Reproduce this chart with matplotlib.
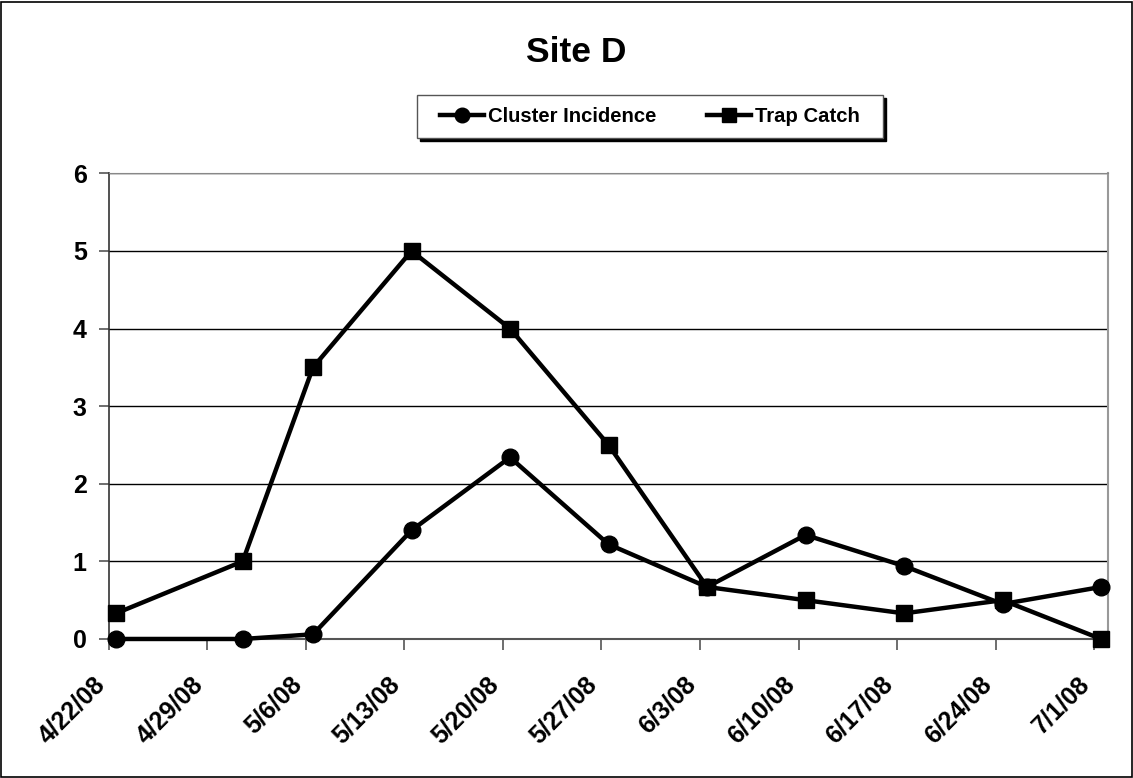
import pandas as pd
import matplotlib
matplotlib.use("Agg")
import matplotlib.pyplot as plt
import matplotlib.transforms as mtransforms
from matplotlib.patches import Rectangle

# sample dates and weekly tick dates
dates = ["2008-04-22", "2008-05-01", "2008-05-06", "2008-05-13", "2008-05-20",
         "2008-05-27", "2008-06-03", "2008-06-10", "2008-06-17", "2008-06-24",
         "2008-07-01"]
cluster_incidence = [0, 0, 0.06, 1.40, 2.34, 1.22, 0.67, 1.34, 0.94, 0.45, 0.67]
trap_catch = [0.33, 1.0, 3.5, 5.0, 4.0, 2.5, 0.67, 0.5, 0.33, 0.5, 0.0]
tick_dates = ["2008-04-22", "2008-04-29", "2008-05-06", "2008-05-13",
              "2008-05-20", "2008-05-27", "2008-06-03", "2008-06-10",
              "2008-06-17", "2008-06-24", "2008-07-01"]
tick_labels = ["4/22/08", "4/29/08", "5/6/08", "5/13/08", "5/20/08",
               "5/27/08", "6/3/08", "6/10/08", "6/17/08", "6/24/08", "7/1/08"]
y_ticks = [0, 1, 2, 3, 4, 5, 6]

plt.rcParams["font.family"] = ["Liberation Sans", "DejaVu Sans"]
plt.rcParams["font.weight"] = "bold"


def main():
    fig = plt.figure(figsize=(11.33, 7.78), dpi=100)
    ax = fig.add_axes([0.0962, 0.1787, 0.8818, 0.5985])

    # excel places points in the middle of the day
    x = pd.to_datetime(dates) + pd.Timedelta(hours=12)

    ax.plot(x, cluster_incidence, color="black", lw=3.2, marker="o",
            markersize=12, label="Cluster Incidence", zorder=3,
            clip_on=False)
    ax.plot(x, trap_catch, color="black", lw=3.2, marker="s",
            markersize=12, label="Trap Catch", zorder=3, clip_on=False)

    ax.set_xlim(pd.Timestamp("2008-04-22"), pd.Timestamp("2008-07-02"))
    ax.set_ylim(0, 6)

    ax.set_xticks(pd.to_datetime(tick_dates))
    ax.set_xticklabels(tick_labels, rotation=45, ha="right", va="center",
                       rotation_mode="anchor", fontsize=18,
                       fontweight="bold")
    ax.set_yticks(y_ticks)
    ax.set_yticklabels([str(v) for v in y_ticks], fontsize=18,
                       fontweight="bold")
    ax.tick_params(axis="x", direction="out", length=8, width=1.2,
                   color="#555555", pad=22)
    ax.tick_params(axis="y", direction="out", length=7, width=1.2,
                   color="#555555", pad=9)

    # shift the rotated date labels a little to the left
    shift = mtransforms.ScaledTranslation(-0.08, 0, fig.dpi_scale_trans)
    for lab in ax.get_xticklabels():
        lab.set_transform(lab.get_transform() + shift)

    # gridlines
    ax.yaxis.grid(True, color="black", lw=1)
    ax.set_axisbelow(True)
    ax.spines["left"].set_color("#333333")
    ax.spines["left"].set_linewidth(1.2)
    ax.spines["bottom"].set_color("#555555")
    ax.spines["bottom"].set_linewidth(1.5)
    ax.spines["top"].set_color("#888888")
    ax.spines["right"].set_color("#999999")
    ax.spines["right"].set_linewidth(1.5)

    fig.text(0.509, 0.932, "Site D", ha="center", va="center",
             fontsize=25.5, fontweight="bold")

    leg = fig.legend(loc="center", bbox_to_anchor=(0.5737, 0.8503), ncol=2,
                     frameon=True, fancybox=False, handlelength=2.15,
                     columnspacing=2.5, handletextpad=0.2, borderpad=0.45,
                     borderaxespad=0, prop={"size": 14.6, "weight": "bold"},
                     shadow={"color": "black", "alpha": 1.0})
    frame = leg.get_frame()
    frame.set_edgecolor("#555555")
    frame.set_linewidth(1.0)
    # wider box horizontally than vertically
    frame.set_boxstyle("square", pad=0.7)
    frame.set_mutation_aspect(0.2)
    for h in leg.legend_handles:
        h.set_markersize(10.5)

    # outer chart border
    fig.patches.append(Rectangle((0.001, 0.001), 0.998, 0.997,
                                 transform=fig.transFigure, fill=False,
                                 edgecolor="black", lw=1.2))

    fig.savefig("out.png", dpi=100)


if __name__ == "__main__":
    main()
